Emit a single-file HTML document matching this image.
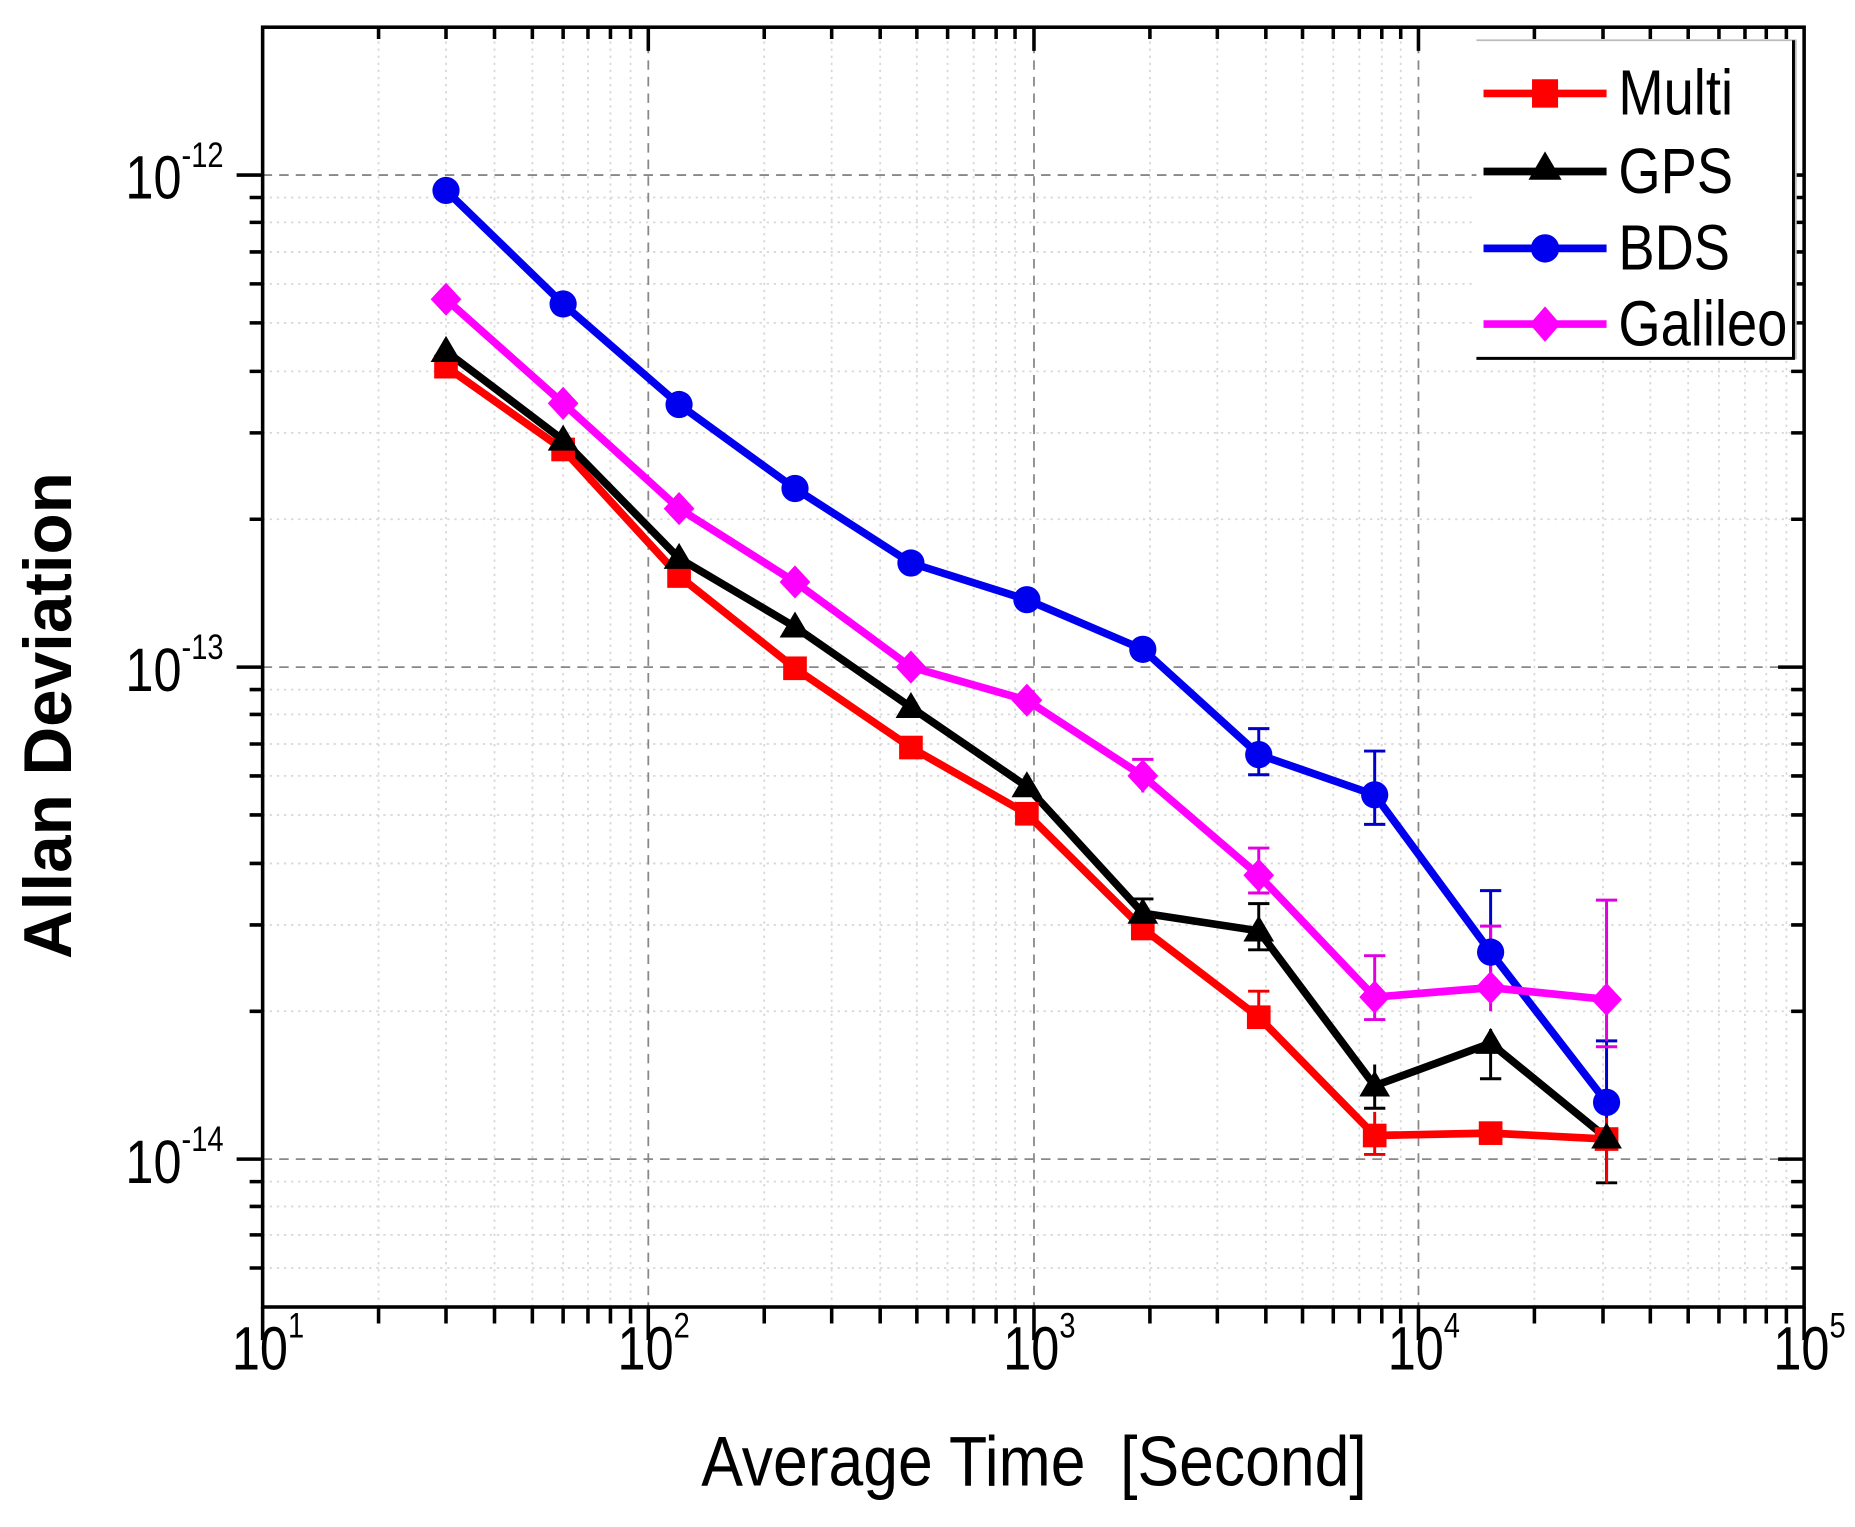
<!DOCTYPE html>
<html><head><meta charset="utf-8"><style>
html,body{margin:0;padding:0;background:#fff;}
svg{display:block;}
text{font-family:"Liberation Sans Narrow","Liberation Sans",sans-serif;fill:#000;}
</style></head><body>
<svg width="1855" height="1527" viewBox="0 0 1568 1291" preserveAspectRatio="none" xmlns="http://www.w3.org/2000/svg">
<rect width="1568" height="1291" fill="#fff"/>
<!-- minor grid -->
<g stroke="#d8d8d8" stroke-width="1.5" stroke-dasharray="2,4">
<path d="M320 23V1105M377 23V1105M418 23V1105M450 23V1105M476 23V1105M497 23V1105M516 23V1105M533 23V1105
M646 23V1105M703 23V1105M744 23V1105M775 23V1105M801 23V1105M823 23V1105M842 23V1105M858 23V1105
M972 23V1105M1029 23V1105M1070 23V1105M1101 23V1105M1127 23V1105M1149 23V1105M1168 23V1105M1184 23V1105
M1297 23V1105M1355 23V1105M1395 23V1105M1427 23V1105M1453 23V1105M1475 23V1105M1493 23V1105M1510 23V1105"/>
<path d="M222 439H1525M222 366H1525M222 314H1525M222 273H1525M222 240H1525M222 213H1525M222 188H1525M222 167H1525
M222 855H1525M222 782H1525M222 730H1525M222 689H1525M222 656H1525M222 629H1525M222 604H1525M222 583H1525
M222 999H1525M222 1020H1525M222 1044H1525M222 1072H1525"/>
</g>
<!-- major grid -->
<g stroke="#888" stroke-width="1.5" stroke-dasharray="8,6">
<path d="M548 23V1105M874 23V1105M1199 23V1105M222 148H1525M222 564H1525M222 980H1525"/>
</g>
<!-- frame -->
<rect x="222" y="23" width="1303" height="1082" fill="none" stroke="#000" stroke-width="3"/>
<!-- ticks -->
<g stroke="#000" stroke-width="3">
<path d="M222 1105v28M548 1105v28M874 1105v28M1199 1105v28M1525 1105v28
M320 1105v14M377 1105v14M418 1105v14M450 1105v14M476 1105v14M497 1105v14M516 1105v14M533 1105v14
M646 1105v14M703 1105v14M744 1105v14M775 1105v14M801 1105v14M823 1105v14M842 1105v14M858 1105v14
M972 1105v14M1029 1105v14M1070 1105v14M1101 1105v14M1127 1105v14M1149 1105v14M1168 1105v14M1184 1105v14
M1297 1105v14M1355 1105v14M1395 1105v14M1427 1105v14M1453 1105v14M1475 1105v14M1493 1105v14M1510 1105v14"/>
<path d="M548 23v20M874 23v20M1199 23v20M320 23v10M377 23v10M418 23v10M450 23v10M476 23v10M497 23v10M516 23v10M533 23v10
M646 23v10M703 23v10M744 23v10M775 23v10M801 23v10M823 23v10M842 23v10M858 23v10
M972 23v10M1029 23v10M1070 23v10M1101 23v10M1127 23v10M1149 23v10M1168 23v10M1184 23v10
M1297 23v10M1355 23v10M1395 23v10M1427 23v10M1453 23v10M1475 23v10M1493 23v10M1510 23v10"/>
<path d="M222 148h-22M222 564h-22M222 980h-22
M222 439h-11M222 366h-11M222 314h-11M222 273h-11M222 240h-11M222 213h-11M222 188h-11M222 167h-11
M222 855h-11M222 782h-11M222 730h-11M222 689h-11M222 656h-11M222 629h-11M222 604h-11M222 583h-11
M222 999h-11M222 1020h-11M222 1044h-11M222 1072h-11"/>
<path d="M1525 148h-22M1525 564h-22M1525 980h-22
M1525 439h-11M1525 366h-11M1525 314h-11M1525 273h-11M1525 240h-11M1525 213h-11M1525 188h-11M1525 167h-11
M1525 855h-11M1525 782h-11M1525 730h-11M1525 689h-11M1525 656h-11M1525 629h-11M1525 604h-11M1525 583h-11
M1525 999h-11M1525 1020h-11M1525 1044h-11M1525 1072h-11"/>
</g>
<!-- y tick labels -->
<g font-size="52">
<text x="106" y="168" transform="translate(106 0) scale(0.82 1) translate(-106 0)">10<tspan font-size="30" dy="-27">-12</tspan></text>
<text x="106" y="584" transform="translate(106 0) scale(0.82 1) translate(-106 0)">10<tspan font-size="30" dy="-27">-13</tspan></text>
<text x="106" y="1000" transform="translate(106 0) scale(0.82 1) translate(-106 0)">10<tspan font-size="30" dy="-27">-14</tspan></text>
</g>
<!-- x tick labels -->
<g font-size="52">
<text x="196" y="1158" transform="translate(196 0) scale(0.82 1) translate(-196 0)">10<tspan font-size="30" dy="-27">1</tspan></text>
<text x="522" y="1158" transform="translate(522 0) scale(0.82 1) translate(-522 0)">10<tspan font-size="30" dy="-27">2</tspan></text>
<text x="848" y="1158" transform="translate(848 0) scale(0.82 1) translate(-848 0)">10<tspan font-size="30" dy="-27">3</tspan></text>
<text x="1173" y="1158" transform="translate(1173 0) scale(0.82 1) translate(-1173 0)">10<tspan font-size="30" dy="-27">4</tspan></text>
<text x="1499" y="1158" transform="translate(1499 0) scale(0.82 1) translate(-1499 0)">10<tspan font-size="30" dy="-27">5</tspan></text>
</g>
<!-- axis titles -->
<text x="874" y="1256" font-size="60" text-anchor="middle" transform="translate(874 0) scale(0.88 1) translate(-874 0)">Average Time&#160;&#160;[Second]</text>
<text transform="translate(60 605) rotate(-90)" font-size="57" font-weight="bold" text-anchor="middle" style="font-family:'Liberation Sans',sans-serif">Allan Deviation</text>

<!-- error bars -->
<g stroke-width="2.5" fill="none">
<path stroke="#0000cc" d="M1064 616V655M1055 616h18M1055 655h18M1162 635V697M1153 635h18M1153 697h18M1260 753V830M1251 753h18M1358 880V990M1349 880h18"/>
<path stroke="#e000e0" d="M966 642V670M957 642h18M1064 717V755M1055 717h18M1055 755h18M1162 808V862M1153 808h18M1153 862h18M1260 783V855M1251 783h18M1358 761V880M1349 761h18M1349 885h18"/>
<path stroke="#000" d="M1064 764V803M1055 764h18M1055 803h18M1162 900V937M1153 937h18M1260 870V912M1251 912h18M1358 960V1000M1349 1000h18M966 760V790M957 760h18"/>
<path stroke="#ee0000" d="M1064 838V860M1055 838h18M1162 940V976M1153 976h18M1358 945V1000"/>
</g>

<!-- series lines -->
<g fill="none" stroke-width="6.5" stroke-linejoin="round">
<polyline stroke="#ff0000" points="377,310 476,380 574,487 672,565 770,632 868,688 966,785 1064,860 1162,960 1260,958 1358,963"/>
<polyline stroke="#000" points="377,297 476,372 574,472 672,530 770,598 868,665 966,772 1064,787 1162,918 1260,882 1358,962"/>
<polyline stroke="#0000ee" points="377,161 476,257 574,342 672,413 770,476 868,507 966,549 1064,638 1162,672 1260,805 1358,932"/>
<polyline stroke="#ff00ff" points="377,253 476,341 574,430 672,492 770,564 868,592 966,656 1064,740 1162,843 1260,835 1358,845"/>
</g>
<!-- markers -->
<g fill="#ff0000">
<rect x="367" y="300" width="20" height="20"/><rect x="466" y="370" width="20" height="20"/><rect x="564" y="477" width="20" height="20"/><rect x="662" y="555" width="20" height="20"/><rect x="760" y="622" width="20" height="20"/><rect x="858" y="678" width="20" height="20"/><rect x="956" y="775" width="20" height="20"/><rect x="1054" y="850" width="20" height="20"/><rect x="1152" y="950" width="20" height="20"/><rect x="1250" y="948" width="20" height="20"/><rect x="1348" y="953" width="20" height="20"/>
</g>
<g fill="#000">
<path d="M377 284l13 22h-26zM476 359l13 22h-26zM574 459l13 22h-26zM672 517l13 22h-26zM770 585l13 22h-26zM868 652l13 22h-26zM966 759l13 22h-26zM1064 774l13 22h-26zM1162 905l13 22h-26zM1260 869l13 22h-26zM1358 949l13 22h-26z"/>
</g>
<g fill="#0000ee">
<circle cx="377" cy="161" r="11.5"/><circle cx="476" cy="257" r="11.5"/><circle cx="574" cy="342" r="11.5"/><circle cx="672" cy="413" r="11.5"/><circle cx="770" cy="476" r="11.5"/><circle cx="868" cy="507" r="11.5"/><circle cx="966" cy="549" r="11.5"/><circle cx="1064" cy="638" r="11.5"/><circle cx="1162" cy="672" r="11.5"/><circle cx="1260" cy="805" r="11.5"/><circle cx="1358" cy="932" r="11.5"/>
</g>
<g fill="#ff00ff">
<path d="M377 239l13 14l-13 14l-13-14zM476 327l13 14l-13 14l-13-14zM574 416l13 14l-13 14l-13-14zM672 478l13 14l-13 14l-13-14zM770 550l13 14l-13 14l-13-14zM868 578l13 14l-13 14l-13-14zM966 642l13 14l-13 14l-13-14zM1064 726l13 14l-13 14l-13-14zM1162 829l13 14l-13 14l-13-14zM1260 821l13 14l-13 14l-13-14zM1358 831l13 14l-13 14l-13-14z"/>
</g>

<!-- legend -->
<rect x="1248" y="34" width="270" height="269" fill="#fff" stroke="none"/>
<path d="M1248 34H1518V303H1248" fill="none" stroke="#bbb" stroke-width="1.5"/>
<path d="M1248 303H1516V34" fill="none" stroke="#000" stroke-width="2.5"/>
<g stroke-width="6.5">
<path stroke="#ff0000" d="M1254 79H1358"/><path stroke="#000" d="M1254 145H1358"/><path stroke="#0000ee" d="M1254 210H1358"/><path stroke="#ff00ff" d="M1254 274H1358"/>
</g>
<rect x="1295" y="67" width="22" height="24" fill="#ff0000"/>
<path d="M1306 128l14 24h-28z" fill="#000"/>
<circle cx="1306" cy="210" r="12" fill="#0000ee"/>
<path d="M1306 259l13 15l-13 15l-13-15z" fill="#ff00ff"/>
<g font-size="54">
<text x="1368" y="97" transform="translate(1368 0) scale(0.85 1) translate(-1368 0)">Multi</text>
<text x="1368" y="163" transform="translate(1368 0) scale(0.85 1) translate(-1368 0)">GPS</text>
<text x="1368" y="228" transform="translate(1368 0) scale(0.85 1) translate(-1368 0)">BDS</text>
<text x="1368" y="292" transform="translate(1368 0) scale(0.85 1) translate(-1368 0)">Galileo</text>
</g>
</svg>
</body></html>
